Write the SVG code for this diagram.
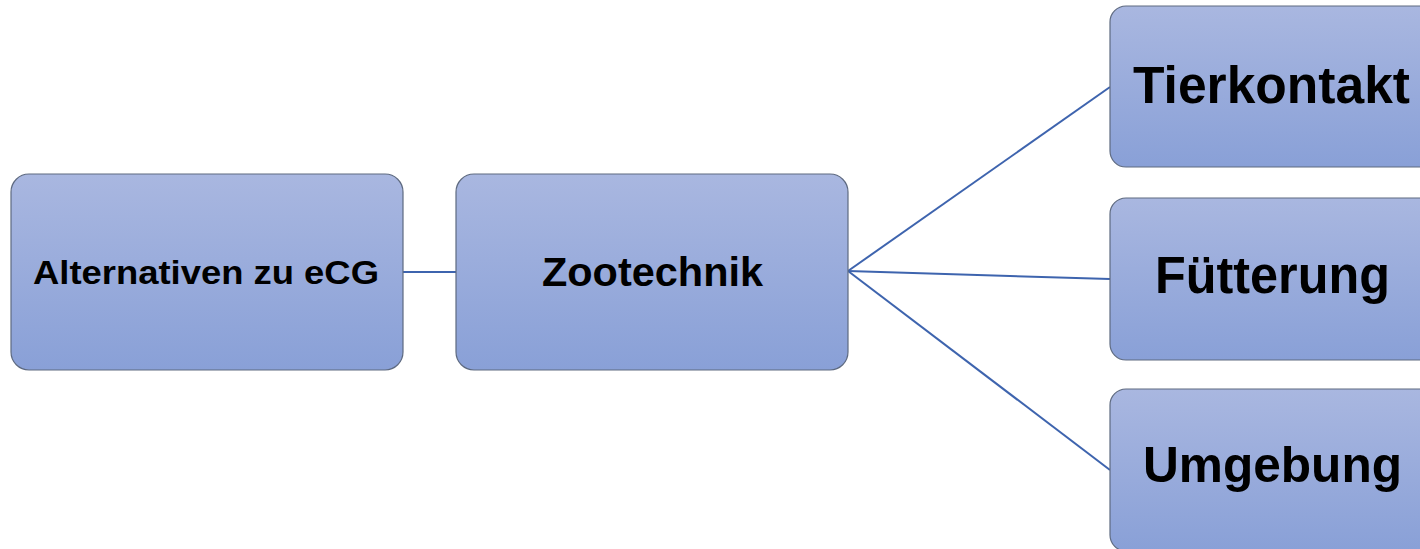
<svg xmlns="http://www.w3.org/2000/svg" width="1420" height="549" viewBox="0 0 1420 549">
<defs>
<linearGradient id="g" x1="0" y1="0" x2="0" y2="1">
<stop offset="0" stop-color="#A9B7E0"/>
<stop offset="1" stop-color="#89A0D7"/>
</linearGradient>
</defs>
<style>
.box{fill:url(#g);stroke:#5E6A80;stroke-width:1.2}
.t{font-family:"Liberation Sans",Arial,sans-serif;font-weight:bold;fill:#000;text-anchor:middle}
.c{stroke:#3E64AE;stroke-width:2;fill:none}
</style>
<rect width="1420" height="549" fill="#fff"/>
<g id="connectors">
<line class="c" x1="403" y1="272" x2="456" y2="272"/>
<line class="c" x1="848" y1="271" x2="1110" y2="87"/>
<line class="c" x1="848" y1="271" x2="1110" y2="279"/>
<line class="c" x1="848" y1="271" x2="1110" y2="470"/>
</g>
<g id="n-alternativen">
<rect class="box" x="11" y="174" width="392" height="196" rx="18"/>
<text class="t" x="206" y="284" font-size="34" textLength="346" lengthAdjust="spacingAndGlyphs">Alternativen zu eCG</text>
</g>
<g id="n-zootechnik">
<rect class="box" x="456" y="174" width="392" height="196" rx="18"/>
<text class="t" x="652.5" y="286" font-size="40" textLength="221" lengthAdjust="spacingAndGlyphs">Zootechnik</text>
</g>
<g id="n-tierkontakt">
<rect class="box" x="1110" y="6" width="392" height="161" rx="16"/>
<text class="t" x="1271.5" y="103" font-size="51" textLength="277" lengthAdjust="spacingAndGlyphs">Tierkontakt</text>
</g>
<g id="n-fuetterung">
<rect class="box" x="1110" y="198" width="392" height="162" rx="16"/>
<text class="t" x="1272.5" y="293" font-size="51" textLength="235" lengthAdjust="spacingAndGlyphs">Fütterung</text>
</g>
<g id="n-umgebung">
<rect class="box" x="1110" y="389" width="392" height="162" rx="16"/>
<text class="t" x="1272.5" y="482" font-size="50" textLength="259" lengthAdjust="spacingAndGlyphs">Umgebung</text>
</g>
</svg>
